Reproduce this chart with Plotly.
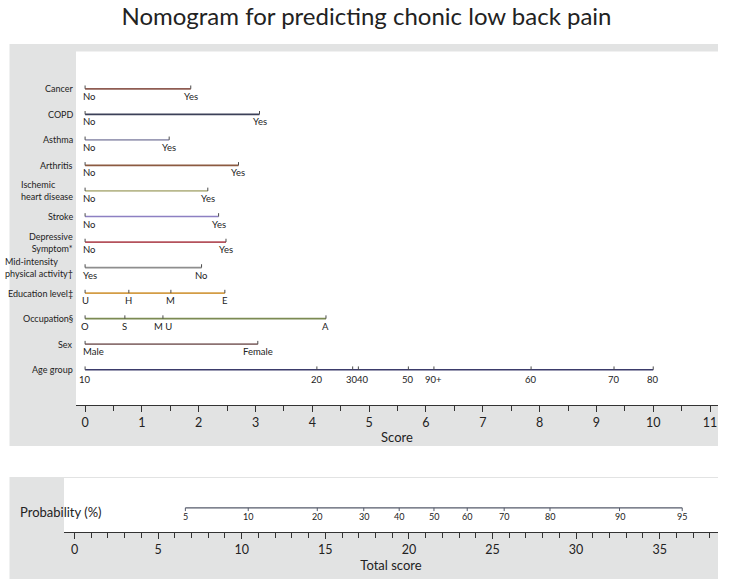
import plotly.graph_objects as go

# ---------------- data ----------------
row_names = ["Cancer", "COPD", "Asthma", "Arthritis", "Ischemic<br>heart disease", "Stroke",
             "Depressive<br>Symptom*", "Mid-intensity<br>physical activity†", "Education level‡",
             "Occupation§", "Sex", "Age group"]
row_align = ["right", "right", "right", "right", "left", "right", "right", "left",
             "right", "right", "right", "right"]

cancer_levels = ["No", "Yes"];            cancer_points = [0, 1.86]
copd_levels = ["No", "Yes"];              copd_points = [0, 3.07]
asthma_levels = ["No", "Yes"];            asthma_points = [0, 1.48]
arthritis_levels = ["No", "Yes"];         arthritis_points = [0, 2.70]
ihd_levels = ["No", "Yes"];               ihd_points = [0, 2.16]
stroke_levels = ["No", "Yes"];            stroke_points = [0, 2.35]
depress_levels = ["No", "Yes"];           depress_points = [0, 2.48]
activity_levels = ["Yes", "No"];          activity_points = [0, 2.05]
education_levels = ["U", "H", "M", "E"];  education_points = [0, 0.77, 1.51, 2.46]
occupation_levels = ["O", "S", "M", "U", "A"]; occupation_points = [0, 0.70, 1.37, 1.37, 4.24]
sex_levels = ["Male", "Female"];          sex_points = [0, 3.04]
age_levels = ["10", "20", "30", "40", "50", "90+", "60", "70", "80"]
age_points = [0, 4.08, 4.71, 4.81, 5.69, 6.14, 7.85, 9.31, 10.0]

row_colors = ["#8f5c52", "#3c4058", "#9c9cb6", "#8c5a40", "#b9b98e", "#8d80c2",
              "#b4525c", "#8e8e8e", "#d39c45", "#7b8a52", "#8c7272", "#3b3b6b"]

prob_labels = ["5", "10", "20", "30", "40", "50", "60", "70", "80", "90", "95"]
prob_total_score = [6.63, 10.39, 14.52, 17.30, 19.42, 21.5, 23.49, 25.7, 28.44, 32.6, 36.35]

rows = [(cancer_levels, cancer_points), (copd_levels, copd_points), (asthma_levels, asthma_points),
        (arthritis_levels, arthritis_points), (ihd_levels, ihd_points), (stroke_levels, stroke_points),
        (depress_levels, depress_points), (activity_levels, activity_points),
        (education_levels, education_points), (occupation_levels, occupation_points),
        (sex_levels, sex_points), (age_levels, age_points)]

# ---------------- layout helpers ----------------
W, H = 733, 585
FONT = "Lato"
TXT = "#222222"
GRAY = "#e2e3e3"


def fx(p):
    return p / W


def fy(p):
    return 1 - p / H


fig = go.Figure()

# rows
for i, (levels, pts) in enumerate(rows):
    c = row_colors[i]
    fig.add_trace(go.Scatter(x=[min(pts), max(pts)], y=[i, i], mode="lines",
                             line=dict(color=c, width=1.7), hoverinfo="skip",
                             xaxis="x", yaxis="y"))
    tx, ty = [], []
    for v in sorted(set(pts)):
        tx += [v, v, None]
        ty += [i, i - 0.13, None]
    fig.add_trace(go.Scatter(x=tx, y=ty, mode="lines", line=dict(color="#4a4a4a", width=1),
                             hoverinfo="skip", xaxis="x", yaxis="y"))
    # labels, merging levels that share one position
    merged = {}
    for lab, v in zip(levels, pts):
        merged.setdefault(v, []).append(lab)
    for v, labs in merged.items():
        text = " ".join(labs)
        xanchor, xshift = "center", 0
        if v == 0 and len(text) > 1 and not text.isdigit():
            xanchor, xshift = "left", -4
        if text == "30":
            xanchor, xshift = "right", 7
        if text == "40":
            xanchor, xshift = "left", -3
        fig.add_annotation(x=v, y=i, xref="x", yref="y", text=text, showarrow=False,
                           xanchor=xanchor, yanchor="top", xshift=xshift,
                           yshift=-2 if levels is age_levels else 0,
                           font=dict(family=FONT, size=9.5, color=TXT))
    fig.add_annotation(x=fx(75), y=i, xref="paper", yref="y", text=row_names[i],
                       showarrow=False, xanchor="right", yanchor="middle", align=row_align[i],
                       font=dict(family=FONT, size=9, color=TXT))

# probability scale
PY = 0.447
fig.add_trace(go.Scatter(x=[min(prob_total_score), max(prob_total_score)], y=[PY, PY],
                         mode="lines", line=dict(color="#555a6a", width=1.4), hoverinfo="skip",
                         xaxis="x2", yaxis="y2"))
tx, ty = [], []
for v in prob_total_score:
    tx += [v, v, None]
    ty += [PY, PY - 0.06, None]
fig.add_trace(go.Scatter(x=tx, y=ty, mode="lines", line=dict(color="#555a6a", width=1),
                         hoverinfo="skip", xaxis="x2", yaxis="y2"))
for lab, v in zip(prob_labels, prob_total_score):
    fig.add_annotation(x=v, y=PY, xref="x2", yref="y2", text=lab, showarrow=False,
                       xanchor="center", yanchor="top", yshift=-1,
                       font=dict(family=FONT, size=9, color=TXT))
fig.add_annotation(x=fx(18), y=fy(512), xref="paper", yref="paper", text="Probability (%)",
                   showarrow=False, xanchor="left", yanchor="middle",
                   font=dict(family=FONT, size=13, color=TXT))

# background panels
shapes = [
    dict(type="rect", xref="paper", yref="paper", x0=fx(9.5), x1=fx(718), y0=fy(446), y1=fy(44),
         fillcolor=GRAY, line=dict(width=0), layer="below"),
    dict(type="rect", xref="paper", yref="paper", x0=fx(76), x1=fx(718), y0=fy(405), y1=fy(51.5),
         fillcolor="white", line=dict(width=0), layer="below"),
    dict(type="rect", xref="paper", yref="paper", x0=fx(9.5), x1=fx(718), y0=fy(579), y1=fy(477),
         fillcolor=GRAY, line=dict(width=0), layer="below"),
    dict(type="rect", xref="paper", yref="paper", x0=fx(64), x1=fx(718), y0=fy(532), y1=fy(478),
         fillcolor="white", line=dict(width=0), layer="below"),
]

axis_common = dict(showline=True, linecolor="#333333", linewidth=1.2, ticks="outside",
                   tickcolor="#333333", ticklen=6, tickwidth=1, showgrid=False, zeroline=False,
                   tickfont=dict(family=FONT, size=12.5, color=TXT), fixedrange=True)

fig.update_layout(
    width=W, height=H, autosize=False,
    margin=dict(l=0, r=0, t=0, b=0),
    paper_bgcolor="white", plot_bgcolor="rgba(0,0,0,0)",
    showlegend=False, shapes=shapes,
    title=dict(text="Nomogram for predicting chonic low back pain", x=fx(366.5), xanchor="center",
               y=fy(17), yanchor="middle", font=dict(family=FONT, size=24, color=TXT)),
    xaxis=dict(domain=[fx(76), fx(718)], anchor="y", range=[-0.16, 11.14],
               tickvals=list(range(12)),
               minor=dict(dtick=0.5, tick0=0, ticks="outside", ticklen=5, tickcolor="#333333"),
               title=dict(text="Score", standoff=3, font=dict(family=FONT, size=13, color=TXT)),
               **axis_common),
    yaxis=dict(domain=[fy(405), fy(51.5)], range=[12.38, -1.46], visible=False, fixedrange=True),
    xaxis2=dict(domain=[fx(64), fx(718)], anchor="y2", range=[-0.63, 38.49], dtick=5, tick0=0,
                minor=dict(dtick=1, tick0=0, ticks="outside", ticklen=5, tickcolor="#333333"),
                title=dict(text="Total score", standoff=3, font=dict(family=FONT, size=13, color=TXT)),
                **axis_common),
    yaxis2=dict(domain=[fy(532), fy(478)], range=[0, 1], visible=False, fixedrange=True),
)

fig.write_html("out.html", config={"displayModeBar": False},
               post_script="document.body.style.margin='0';document.body.style.padding='0';")
